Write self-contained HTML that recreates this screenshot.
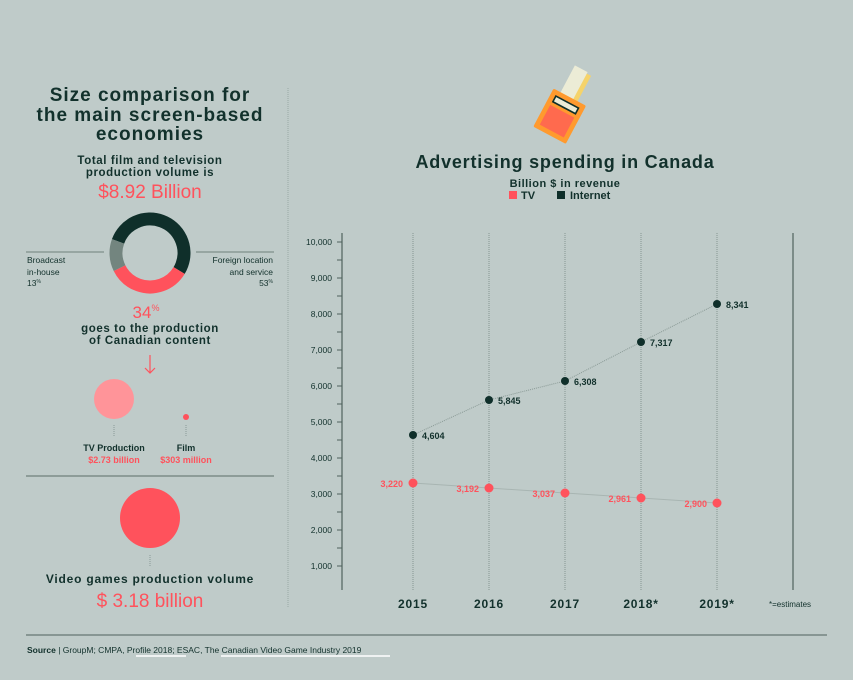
<!DOCTYPE html>
<html><head><meta charset="utf-8"><style>
html,body{margin:0;padding:0;background:#bfcbc9;}
svg{display:block;font-family:"Liberation Sans",sans-serif;}
</style></head><body>
<svg width="853" height="680" viewBox="0 0 853 680" xmlns="http://www.w3.org/2000/svg">
<rect width="853" height="680" fill="#bfcbc9"/>
<g fill="#12312c" font-weight="bold" text-anchor="middle">
<text x="150" y="101" font-size="19" letter-spacing="1">Size comparison for</text>
<text x="150" y="121" font-size="19" letter-spacing="1">the main screen-based</text>
<text x="150" y="140" font-size="19" letter-spacing="1">economies</text>
<text x="150" y="164" font-size="11.5" letter-spacing="0.6">Total film and television</text>
<text x="150" y="176" font-size="11.5" letter-spacing="0.6">production volume is</text>
</g>
<text x="150" y="198" font-size="19" fill="#ff525c" text-anchor="middle">$8.92 Billion</text>
<g transform="rotate(200 150 253)">
<circle cx="150" cy="253" r="34" fill="none" stroke="#0f2f2a" stroke-width="13" stroke-dasharray="113.2 213.6"/>
<circle cx="150" cy="253" r="34" fill="none" stroke="#ff525c" stroke-width="13" stroke-dasharray="0 113.2 72.6 213.6"/>
<circle cx="150" cy="253" r="34" fill="none" stroke="#73857f" stroke-width="13" stroke-dasharray="0 185.8 27.8 213.6"/>
</g>
<line x1="26" y1="252" x2="104" y2="252" stroke="#6f807c" stroke-width="1"/>
<line x1="196" y1="252" x2="274" y2="252" stroke="#6f807c" stroke-width="1"/>
<g font-size="8.5" fill="#12312c">
<text x="27" y="263">Broadcast</text>
<text x="27" y="275">in-house</text>
<text x="27" y="286">13<tspan font-size="5" dy="-3">%</tspan></text>
<text x="273" y="263" text-anchor="end">Foreign location</text>
<text x="273" y="275" text-anchor="end">and service</text>
<text x="273" y="286" text-anchor="end">53<tspan font-size="5" dy="-3">%</tspan></text>
</g>
<text x="146" y="318" font-size="17" fill="#ff525c" text-anchor="middle">34<tspan font-size="9" dy="-7">%</tspan></text>
<g fill="#12312c" font-weight="bold" text-anchor="middle" font-size="11.5" letter-spacing="0.6">
<text x="150" y="332">goes to the production</text>
<text x="150" y="344">of Canadian content</text>
</g>
<line x1="150" y1="355" x2="150" y2="373" stroke="#ff525c" stroke-width="1.2"/>
<polyline points="145,368 150,373 155,368" fill="none" stroke="#ff525c" stroke-width="1.2"/>
<circle cx="114" cy="399" r="20" fill="#ff9499"/>
<circle cx="186" cy="417" r="3" fill="#ff525c"/>
<line x1="114" y1="425" x2="114" y2="437" stroke="#8a9a96" stroke-dasharray="1 1"/>
<line x1="186" y1="425" x2="186" y2="437" stroke="#8a9a96" stroke-dasharray="1 1"/>
<g font-size="9" font-weight="bold" text-anchor="middle">
<text x="114" y="451" fill="#12312c">TV Production</text>
<text x="114" y="463" fill="#ff525c">$2.73 billion</text>
<text x="186" y="451" fill="#12312c">Film</text>
<text x="186" y="463" fill="#ff525c">$303 million</text>
</g>
<line x1="26" y1="476" x2="274" y2="476" stroke="#6f807c" stroke-width="1.2"/>
<circle cx="150" cy="518" r="30" fill="#ff525c"/>
<line x1="150" y1="555" x2="150" y2="567" stroke="#8a9a96" stroke-dasharray="1 1"/>
<text x="150" y="583" font-size="12" font-weight="bold" fill="#12312c" text-anchor="middle" letter-spacing="0.8">Video games production volume</text>
<text x="150" y="607" font-size="19" fill="#ff525c" text-anchor="middle">$ 3.18 billion</text>
<line x1="288" y1="88" x2="288" y2="607" stroke="#9aa8a5" stroke-dasharray="1 1"/>
<g transform="translate(566,106) rotate(28) scale(0.8)">
<rect x="-6" y="-48" width="16" height="36" fill="#f5d36a"/>
<rect x="-14" y="-50" width="18" height="42" fill="#ececd6"/>
<rect x="-24" y="-12" width="46" height="54" rx="2" fill="#ff9a2e"/>
<rect x="-18" y="-6" width="34" height="10" fill="#0f2f2a"/>
<rect x="-16" y="-4" width="30" height="6" fill="#ececd6"/>
<rect x="-18" y="8" width="34" height="28" fill="#ff6a4e"/>
</g>
<text x="565" y="168" font-size="18" font-weight="bold" fill="#12312c" text-anchor="middle" letter-spacing="0.8">Advertising spending in Canada</text>
<text x="565" y="187" font-size="11" font-weight="bold" fill="#12312c" text-anchor="middle" letter-spacing="0.5">Billion $ in revenue</text>
<rect x="509" y="191" width="8" height="8" fill="#ff525c"/>
<text x="521" y="199" font-size="11" font-weight="bold" fill="#12312c">TV</text>
<rect x="557" y="191" width="8" height="8" fill="#0f2f2a"/>
<text x="570" y="199" font-size="11" font-weight="bold" fill="#12312c">Internet</text>
<line x1="342" y1="233" x2="342" y2="590" stroke="#4f625d" stroke-width="1.2"/>
<line x1="793" y1="233" x2="793" y2="590" stroke="#4f625d" stroke-width="1.2"/>
<g stroke="#4f625d" stroke-width="1">
<line x1="337" y1="242" x2="342" y2="242"/><line x1="337" y1="260" x2="342" y2="260"/>
<line x1="337" y1="278" x2="342" y2="278"/><line x1="337" y1="296" x2="342" y2="296"/>
<line x1="337" y1="314" x2="342" y2="314"/><line x1="337" y1="332" x2="342" y2="332"/>
<line x1="337" y1="350" x2="342" y2="350"/><line x1="337" y1="368" x2="342" y2="368"/>
<line x1="337" y1="386" x2="342" y2="386"/><line x1="337" y1="404" x2="342" y2="404"/>
<line x1="337" y1="422" x2="342" y2="422"/><line x1="337" y1="440" x2="342" y2="440"/>
<line x1="337" y1="458" x2="342" y2="458"/><line x1="337" y1="476" x2="342" y2="476"/>
<line x1="337" y1="494" x2="342" y2="494"/><line x1="337" y1="512" x2="342" y2="512"/>
<line x1="337" y1="530" x2="342" y2="530"/><line x1="337" y1="548" x2="342" y2="548"/>
<line x1="337" y1="566" x2="342" y2="566"/>
</g>
<g font-size="8.5" fill="#12312c" text-anchor="end">
<text x="332" y="245">10,000</text><text x="332" y="281">9,000</text><text x="332" y="317">8,000</text>
<text x="332" y="353">7,000</text><text x="332" y="389">6,000</text><text x="332" y="425">5,000</text>
<text x="332" y="461">4,000</text><text x="332" y="497">3,000</text><text x="332" y="533">2,000</text>
<text x="332" y="569">1,000</text>
</g>
<g stroke="#a2b0ad" stroke-width="2" stroke-dasharray="1 1">
<line x1="413" y1="233" x2="413" y2="590"/><line x1="489" y1="233" x2="489" y2="590"/>
<line x1="565" y1="233" x2="565" y2="590"/><line x1="641" y1="233" x2="641" y2="590"/>
<line x1="717" y1="233" x2="717" y2="590"/>
</g>
<polyline points="413,435 489,400 565,381 641,342 717,304" fill="none" stroke="#8a9a96" stroke-dasharray="1 1"/>
<polyline points="413,483 489,488 565,493 641,498 717,503" fill="none" stroke="#a8b5b2" stroke-width="1"/>
<g fill="#0f2f2a">
<circle cx="413" cy="435" r="4"/><circle cx="489" cy="400" r="4"/><circle cx="565" cy="381" r="4"/>
<circle cx="641" cy="342" r="4"/><circle cx="717" cy="304" r="4"/>
</g>
<g font-size="9" font-weight="bold" fill="#12312c">
<text x="422" y="439">4,604</text><text x="498" y="404">5,845</text><text x="574" y="385">6,308</text>
<text x="650" y="346">7,317</text><text x="726" y="308">8,341</text>
</g>
<g fill="#ff525c">
<circle cx="413" cy="483" r="4.5"/><circle cx="489" cy="488" r="4.5"/><circle cx="565" cy="493" r="4.5"/>
<circle cx="641" cy="498" r="4.5"/><circle cx="717" cy="503" r="4.5"/>
</g>
<g font-size="9" fill="#ff525c" text-anchor="end" font-weight="bold">
<text x="403" y="487">3,220</text><text x="479" y="492">3,192</text><text x="555" y="497">3,037</text>
<text x="631" y="502">2,961</text><text x="707" y="507">2,900</text>
</g>
<g font-size="12" font-weight="bold" fill="#12312c" text-anchor="middle" letter-spacing="0.8">
<text x="413" y="608">2015</text><text x="489" y="608">2016</text><text x="565" y="608">2017</text>
<text x="641" y="608">2018*</text><text x="717" y="608">2019*</text>
</g>
<text x="769" y="607" font-size="8" fill="#12312c">*=estimates</text>
<line x1="26" y1="635" x2="827" y2="635" stroke="#4f625d" stroke-width="1"/>
<text x="27" y="653" font-size="8.5" fill="#12312c"><tspan font-weight="bold">Source</tspan> | GroupM; CMPA, Profile 2018; ESAC, The Canadian Video Game Industry 2019</text>
<line x1="136" y1="656" x2="186" y2="656" stroke="#ffffff" stroke-width="1.5"/>
<line x1="221" y1="656" x2="390" y2="656" stroke="#ffffff" stroke-width="1.5"/>
</svg>
</body></html>
